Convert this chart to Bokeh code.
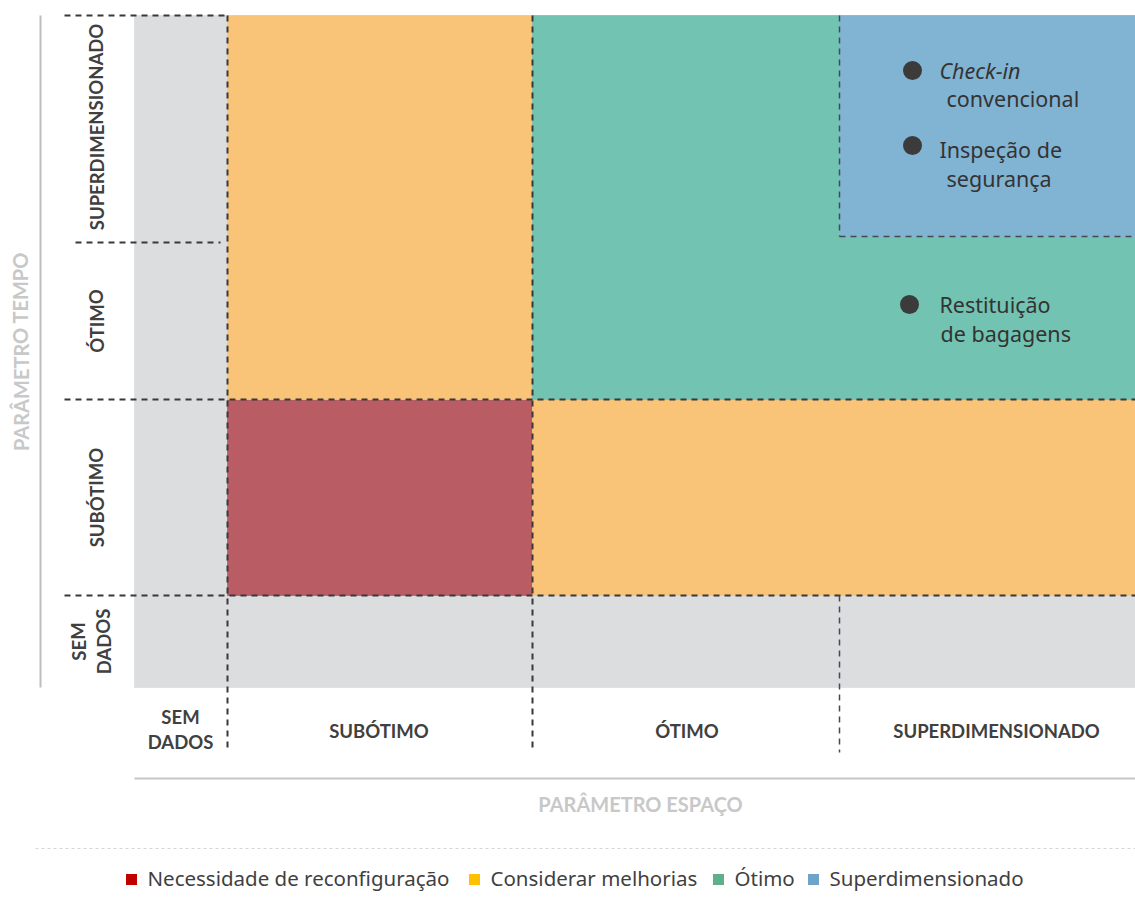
from bokeh.plotting import figure
from bokeh.models import Range1d, ColumnDataSource
from bokeh.core.properties import value
from bokeh.embed import file_html
from bokeh.resources import INLINE

# ---------------- data ----------------
space_levels = ["SEM DADOS", "SUBÓTIMO", "ÓTIMO", "SUPERDIMENSIONADO"]
time_levels = ["SEM DADOS", "SUBÓTIMO", "ÓTIMO", "SUPERDIMENSIONADO"]

# status of every (space, time) cell
cell_space = ["SEM DADOS"] * 4 + ["SUBÓTIMO"] * 4 + ["ÓTIMO"] * 4 + ["SUPERDIMENSIONADO"] * 4
cell_time = time_levels * 4
cell_status = ["sem", "sem", "sem", "sem",
               "sem", "reconf", "melhor", "melhor",
               "sem", "melhor", "otimo", "otimo",
               "sem", "melhor", "otimo", "super"]

processes = ["Check-in convencional", "Inspeção de segurança", "Restituição de bagagens"]
proc_space = ["SUPERDIMENSIONADO", "SUPERDIMENSIONADO", "SUPERDIMENSIONADO"]
proc_time = ["SUPERDIMENSIONADO", "SUPERDIMENSIONADO", "ÓTIMO"]
proc_line1 = ["Check-in", "Inspeção de", "Restituição"]
proc_line2 = ["convencional", "segurança", "de bagagens"]

legend_labels = ["Necessidade de reconfiguração", "Considerar melhorias", "Ótimo", "Superdimensionado"]

# ---------------- layout / styles ----------------
status_color = {"sem": "#DCDDDF", "reconf": "#BA5C64", "melhor": "#F9C478",
                "otimo": "#72C3B1", "super": "#81B3D3"}
legend_colors = ["#C00000", "#FFC000", "#5FAE8C", "#6FA3C8"]

# column edges (page x) for space levels, row edges (page y) for time levels
x_edges = {"SEM DADOS": (134, 227), "SUBÓTIMO": (227, 532),
           "ÓTIMO": (532, 839), "SUPERDIMENSIONADO": (839, 1135)}
y_edges = {"SEM DADOS": (687, 595), "SUBÓTIMO": (595, 399),
           "ÓTIMO": (399, 236), "SUPERDIMENSIONADO": (236, 15)}
y_label_edges = {"SEM DADOS": (687, 595), "SUBÓTIMO": (595, 399),
                 "ÓTIMO": (399, 242), "SUPERDIMENSIONADO": (242, 15)}

W, H = 1135, 903
p = figure(width=W, height=H, output_backend="svg", toolbar_location=None,
           x_range=Range1d(0, W), y_range=Range1d(H, 0),
           min_border=0)
p.axis.visible = False
p.grid.visible = False
p.outline_line_color = None
p.background_fill_color = "white"
p.border_fill_color = "white"

# cells
src = ColumnDataSource(dict(
    left=[x_edges[s][0] for s in cell_space],
    right=[x_edges[s][1] for s in cell_space],
    bottom=[y_edges[t][0] for t in cell_time],
    top=[y_edges[t][1] for t in cell_time],
    color=[status_color[c] for c in cell_status],
))
p.quad(left="left", right="right", bottom="bottom", top="top", fill_color="color",
       line_color="color", line_width=0.8, source=src)

dash_c = "#393939"
xs_sub0 = x_edges["SUBÓTIMO"][0]
xs_ot0 = x_edges["ÓTIMO"][0]
xs_sup0 = x_edges["SUPERDIMENSIONADO"][0]
top = y_edges["SUPERDIMENSIONADO"][1]
bot = y_edges["SEM DADOS"][0]
yb_sub = y_edges["SUBÓTIMO"][0]
yb_ot = y_edges["ÓTIMO"][0]
yb_sup = y_edges["SUPERDIMENSIONADO"][0]
ylab_sup = y_label_edges["SUPERDIMENSIONADO"][0]

p.segment(x0=[64, 64, 64, 75], x1=[xs_sub0, 1135, 1135, 220],
          y0=[top, yb_ot, yb_sub, ylab_sup], y1=[top, yb_ot, yb_sub, ylab_sup],
          line_color=dash_c, line_width=2, line_dash="6 5")
p.segment(x0=[xs_sub0, xs_ot0], x1=[xs_sub0, xs_ot0], y0=[top, top], y1=[752, 752],
          line_color=dash_c, line_width=2, line_dash="6 5")
p.segment(x0=[xs_sup0, xs_sup0, xs_sup0], x1=[xs_sup0, 1135, xs_sup0],
          y0=[top, yb_sup, yb_sub], y1=[yb_sup, yb_sup, 752],
          line_color="#444A50", line_width=1.5, line_dash="6 5")

# axis lines
p.segment(x0=[40], x1=[40], y0=[15], y1=[687], line_color="#BDBDBD", line_width=2)
p.segment(x0=[134], x1=[1135], y0=[778], y1=[778], line_color="#C6C6C6", line_width=2)
# separator
p.segment(x0=[35], x1=[1135], y0=[848], y1=[848], line_color="#D6D6D6", line_width=1,
          line_dash="3 3")

lab_font = value("Lato")
lab_col = "#404040"
lab_size = "18.5px"
# bottom space labels
bx = [(x_edges[s][0] + x_edges[s][1]) / 2 for s in space_levels[1:]]
p.text(x=[bx[0] - 1, bx[1] + 1, bx[2] + 9], y=[730] * 3, text=space_levels[1:], text_font=lab_font,
       text_font_style="bold", text_font_size=lab_size, text_color=lab_col,
       text_align="center", text_baseline="middle")
p.text(x=[180, 180], y=[716, 741], text=["SEM", "DADOS"], text_font=lab_font,
       text_font_style="bold", text_font_size=lab_size, text_color=lab_col,
       text_align="center", text_baseline="middle")

# left time labels (rotated)
ly = [(y_label_edges[t][0] + y_label_edges[t][1]) / 2 for t in time_levels[1:]]
p.text(x=[96] * 3, y=[ly[0], ly[1], ly[2] - 2], text=time_levels[1:], angle=1.5708,
       text_font=lab_font, text_font_style="bold", text_font_size=lab_size,
       text_color=lab_col, text_align="center", text_baseline="middle")
p.text(x=[78, 103], y=[641, 641], text=["SEM", "DADOS"], angle=1.5708, text_font=lab_font,
       text_font_style="bold", text_font_size=lab_size, text_color=lab_col,
       text_align="center", text_baseline="middle")

# axis titles
p.text(x=[640], y=[803], text=["PARÂMETRO ESPAÇO"], text_font=lab_font,
       text_font_style="bold", text_font_size="20px", text_color="#C8C8C8",
       text_align="center", text_baseline="middle")
p.text(x=[20], y=[351], text=["PARÂMETRO TEMPO"], angle=1.5708, text_font=lab_font,
       text_font_style="bold", text_font_size="20px", text_color="#C8C8C8",
       text_align="center", text_baseline="middle")

# processes
px_off = [912, 912, 909]
py_pos = [70, 145, 304]
p.scatter(x=px_off, y=py_pos, size=19, marker="circle", fill_color="#3B3B3B",
          line_color=None)
txt_font = value("Noto Sans")
p.text(x=[939], y=[70], text=[proc_line1[0]], text_font=txt_font, text_font_style="italic",
       text_font_size="21.5px", text_color="#333333", text_baseline="middle")
p.text(x=[939, 939], y=[149, 304], text=proc_line1[1:], text_font=txt_font,
       text_font_size="21.5px", text_color="#333333", text_baseline="middle")
p.text(x=[946, 946, 940], y=[98, 178, 333], text=proc_line2, text_font=txt_font,
       text_font_size="21.5px", text_color="#333333", text_baseline="middle")

# legend
lx = [131, 474, 718, 813]
p.scatter(x=lx, y=[879] * 4, size=11, marker="square", fill_color=legend_colors,
          line_color=None)
p.text(x=[x + 16 for x in lx], y=[877] * 4, text=legend_labels, text_font=txt_font,
       text_font_size="20.5px", text_color="#3F3F3F", text_baseline="middle")

open("out.html", "w").write(file_html(p, INLINE))
